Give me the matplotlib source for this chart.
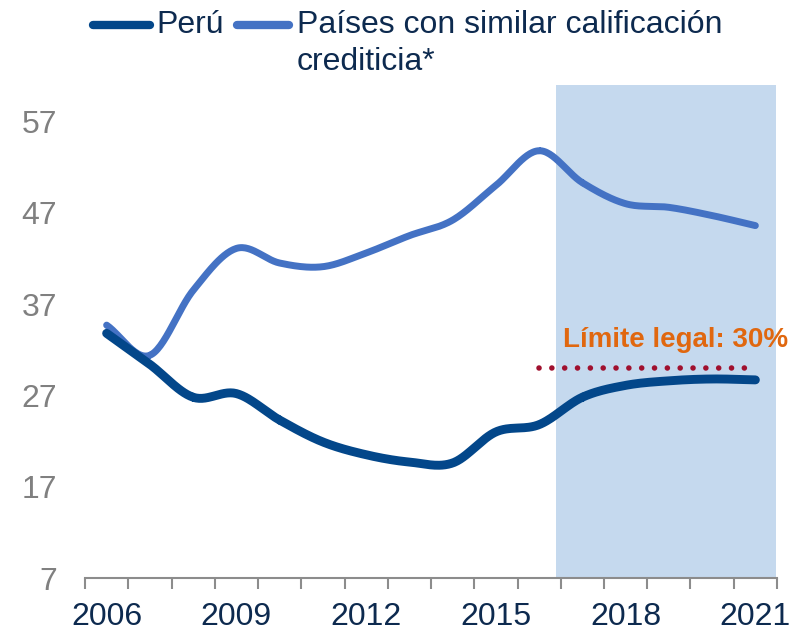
import numpy as np
import matplotlib
matplotlib.use("Agg")
import matplotlib.pyplot as plt
from matplotlib.lines import Line2D

plt.rcParams['font.family'] = ['Liberation Sans', 'DejaVu Sans']

years = [str(y) for y in range(2006, 2022)]
peru = [33.8, 30.4, 26.8, 27.2, 24.3, 21.9, 20.5, 19.7, 19.6, 23.0, 23.8, 26.8, 28.1, 28.6, 28.8, 28.7]
paises = [34.7, 31.4, 38.5, 43.1, 41.5, 41.1, 42.6, 44.5, 46.2, 50.0, 53.8, 50.3, 48.0, 47.6, 46.7, 45.6]
tick_labels = ['2006', '2009', '2012', '2015', '2018', '2021']
limite = 30
limite_years = ('2016', '2020')
shade_years = ('2017', '2021')
yticks = [7, 17, 27, 37, 47, 57]


def catmull(x, y, n=30):
    x = np.asarray(x, float); y = np.asarray(y, float)
    px = np.concatenate([[2 * x[0] - x[1]], x, [2 * x[-1] - x[-2]]])
    py = np.concatenate([[2 * y[0] - y[1]], y, [2 * y[-1] - y[-2]]])
    xs, ys = [], []
    t = np.linspace(0, 1, n)
    for i in range(1, len(px) - 2):
        for arr, out in ((px, xs), (py, ys)):
            p0, p1, p2, p3 = arr[i - 1], arr[i], arr[i + 1], arr[i + 2]
            out.extend(0.5 * ((2 * p1) + (-p0 + p2) * t + (2 * p0 - 5 * p1 + 4 * p2 - p3) * t ** 2
                              + (-p0 + 3 * p1 - 3 * p2 + p3) * t ** 3))
    return np.array(xs), np.array(ys)


fig = plt.figure(figsize=(7.92, 6.32), dpi=100)
ax = fig.add_axes([85 / 792, 1 - 578 / 632, (777 - 85) / 792, (578 - 85) / 632])

x = np.arange(len(years))
s0 = years.index(shade_years[0]) - 0.62
s1 = years.index(shade_years[1]) + 0.47
ax.axvspan(s0, s1, color='#C5D9EE', zorder=0, lw=0)

xs, ys = catmull(x, paises)
ax.plot(xs, ys, color='#4472C4', lw=5.0, solid_capstyle='round', zorder=3)
xs, ys = catmull(x, peru)
ax.plot(xs, ys, color='#03478A', lw=6.4, solid_capstyle='round', zorder=4)

l0 = years.index(limite_years[0])
l1 = years.index(limite_years[1]) + 0.95
ax.plot([l0, l1], [limite, limite], color='#A0102E', lw=4.0, ls=(0, (0.01, 2.3)),
        dash_capstyle='round', zorder=5)
ax.text(10.55, limite + 3.1, 'Límite legal: 30%', color='#E0670F', fontsize=20,
        fontweight='bold', ha='left', va='center')

ax.set_xlim(-0.5, len(years) - 0.5)
ax.set_ylim(7, 61)
ax.set_yticks(yticks)
ax.set_yticklabels([str(v) for v in yticks], color='#808080', fontsize=23)
ax.set_xticks([years.index(t) for t in tick_labels])
ax.set_xticklabels(tick_labels, color='#0D2A4F', fontsize=23)
ax.set_xticks(np.arange(-0.5, len(years)), minor=True)
ax.tick_params(axis='x', which='major', length=0, pad=17)
ax.tick_params(axis='x', which='minor', length=8, width=1.5, color='#8C8C8C', direction='out')
ax.tick_params(axis='y', length=0, pad=20)
for sp in ['left', 'right', 'top']:
    ax.spines[sp].set_visible(False)
ax.spines['bottom'].set_color('#8C8C8C')
ax.spines['bottom'].set_linewidth(1.5)

# legend
ly = 1 - 25 / 632
fig.add_artist(Line2D([93 / 792, 150 / 792], [ly, ly], color='#03478A', lw=6,
                      solid_capstyle='round'))
fig.text(156 / 792, ly, 'Perú', color='#0D2A4F', fontsize=23, va='center', ha='left')
fig.add_artist(Line2D([237 / 792, 289 / 792], [ly, ly], color='#4472C4', lw=6,
                      solid_capstyle='round'))
fig.text(297 / 792, ly, 'Países con similar calificación', color='#0D2A4F', fontsize=23,
         va='center', ha='left')
fig.text(297 / 792, 1 - 62 / 632, 'crediticia*', color='#0D2A4F', fontsize=23, va='center', ha='left')

fig.savefig('out.png', dpi=100)
